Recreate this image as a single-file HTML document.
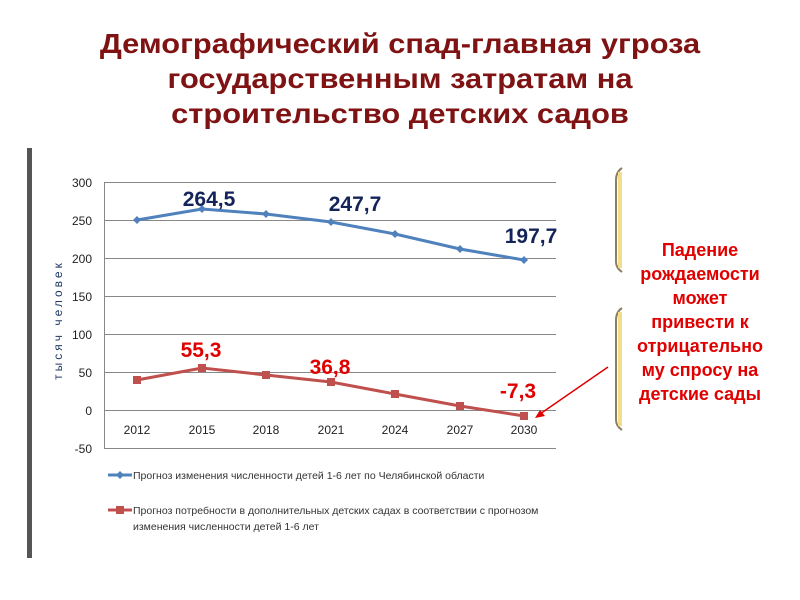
<!DOCTYPE html>
<html><head><meta charset="utf-8"><style>
body{margin:0;width:800px;height:600px;background:#fff;overflow:hidden;font-family:"Liberation Sans",sans-serif}
.t{position:absolute;left:0;width:800px;text-align:center;color:#7f1212;font-weight:bold;font-size:28px;line-height:35px;top:26px;transform:scaleX(1.1);transform-origin:400px 0}
.r{position:absolute;left:610px;width:180px;top:238px;text-align:center;color:#e00000;font-weight:bold;font-size:18px;line-height:24px}
</style></head><body>
<div class="t">Демографический спад-главная угроза<br>государственным затратам на<br>строительство детских садов</div>
<svg width="800" height="600" style="position:absolute;left:0;top:0">
<rect x="27" y="148" width="5" height="410" fill="#555"/>
<path d="M622 168 Q616 172 616 180 V262 Q616 268 622 272" stroke="#8a8060" stroke-width="2" fill="none"/>
<rect x="618" y="172" width="4" height="96" fill="#f2dc8e"/>
<path d="M622 308 Q616 312 616 320 V420 Q616 426 622 430" stroke="#8a8060" stroke-width="2" fill="none"/>
<rect x="618" y="312" width="4" height="114" fill="#f2dc8e"/>
<g stroke="#888" stroke-width="1">
<line x1="105" x2="556" y1="182.5" y2="182.5"/><line x1="105" x2="556" y1="220.5" y2="220.5"/><line x1="105" x2="556" y1="258.5" y2="258.5"/><line x1="105" x2="556" y1="296.5" y2="296.5"/><line x1="105" x2="556" y1="334.5" y2="334.5"/><line x1="105" x2="556" y1="372.5" y2="372.5"/><line x1="105" x2="556" y1="410.5" y2="410.5"/><line x1="105" x2="556" y1="448.5" y2="448.5"/>
<line x1="104.5" x2="104.5" y1="182" y2="449"/>
</g>
<g font-size="12" fill="#222" text-anchor="end">
<text x="92" y="187">300</text><text x="92" y="225">250</text><text x="92" y="263">200</text><text x="92" y="301">150</text><text x="92" y="339">100</text><text x="92" y="377">50</text><text x="92" y="415">0</text><text x="92" y="453">-50</text></g>
<g font-size="12" fill="#222" text-anchor="middle">
<text x="137" y="434">2012</text><text x="202" y="434">2015</text><text x="266" y="434">2018</text><text x="331" y="434">2021</text><text x="395" y="434">2024</text><text x="460" y="434">2027</text><text x="524" y="434">2030</text></g>
<text transform="translate(62,320) rotate(-90)" font-size="12" fill="#1f3864" text-anchor="middle" letter-spacing="3">тысяч человек</text>
<polyline points="137,220 202,209 266,214 331,222 395,234 460,249 524,260" fill="none" stroke="#4f81bd" stroke-width="3"/>
<g fill="#4f81bd"><path d="M137,216l4,4l-4,4l-4-4z"/><path d="M202,205l4,4l-4,4l-4-4z"/><path d="M266,210l4,4l-4,4l-4-4z"/><path d="M331,218l4,4l-4,4l-4-4z"/><path d="M395,230l4,4l-4,4l-4-4z"/><path d="M460,245l4,4l-4,4l-4-4z"/><path d="M524,256l4,4l-4,4l-4-4z"/></g>
<polyline points="137,380 202,368 266,375 331,382 395,394 460,406 524,416" fill="none" stroke="#c0504d" stroke-width="3"/>
<g fill="#c0504d"><rect x="133" y="376" width="8" height="8"/><rect x="198" y="364" width="8" height="8"/><rect x="262" y="371" width="8" height="8"/><rect x="327" y="378" width="8" height="8"/><rect x="391" y="390" width="8" height="8"/><rect x="456" y="402" width="8" height="8"/><rect x="520" y="412" width="8" height="8"/></g>
<g font-size="21" font-weight="bold" fill="#14245a" text-anchor="middle"><text x="209" y="206">264,5</text><text x="355" y="211">247,7</text><text x="531" y="243">197,7</text></g>
<g font-size="21" font-weight="bold" fill="#e00000" text-anchor="middle"><text x="201" y="357">55,3</text><text x="330" y="374">36,8</text><text x="518" y="398">-7,3</text></g>
<line x1="608" y1="367" x2="540" y2="414" stroke="#e00000" stroke-width="1.5"/>
<path d="M535,418 l10,-2 l-5,-6z" fill="#e00000"/>
<line x1="108" x2="132" y1="475" y2="475" stroke="#4f81bd" stroke-width="3"/><path d="M120,471l4,4l-4,4l-4-4z" fill="#4f81bd"/>
<text x="133" y="479" font-size="10.5" fill="#333">Прогноз изменения численности детей 1-6 лет по Челябинской области</text>
<line x1="108" x2="132" y1="510" y2="510" stroke="#c0504d" stroke-width="3"/><rect x="116" y="506" width="8" height="8" fill="#c0504d"/>
<text x="133" y="514" font-size="10.5" fill="#333">Прогноз потребности в дополнительных детских садах в соответствии с прогнозом</text>
<text x="133" y="530" font-size="10.5" fill="#333">изменения численности детей 1-6 лет</text>
</svg>
<div class="r">Падение<br>рождаемости<br>может<br>привести к<br>отрицательно<br>му спросу на<br>детские сады</div>
</body></html>
